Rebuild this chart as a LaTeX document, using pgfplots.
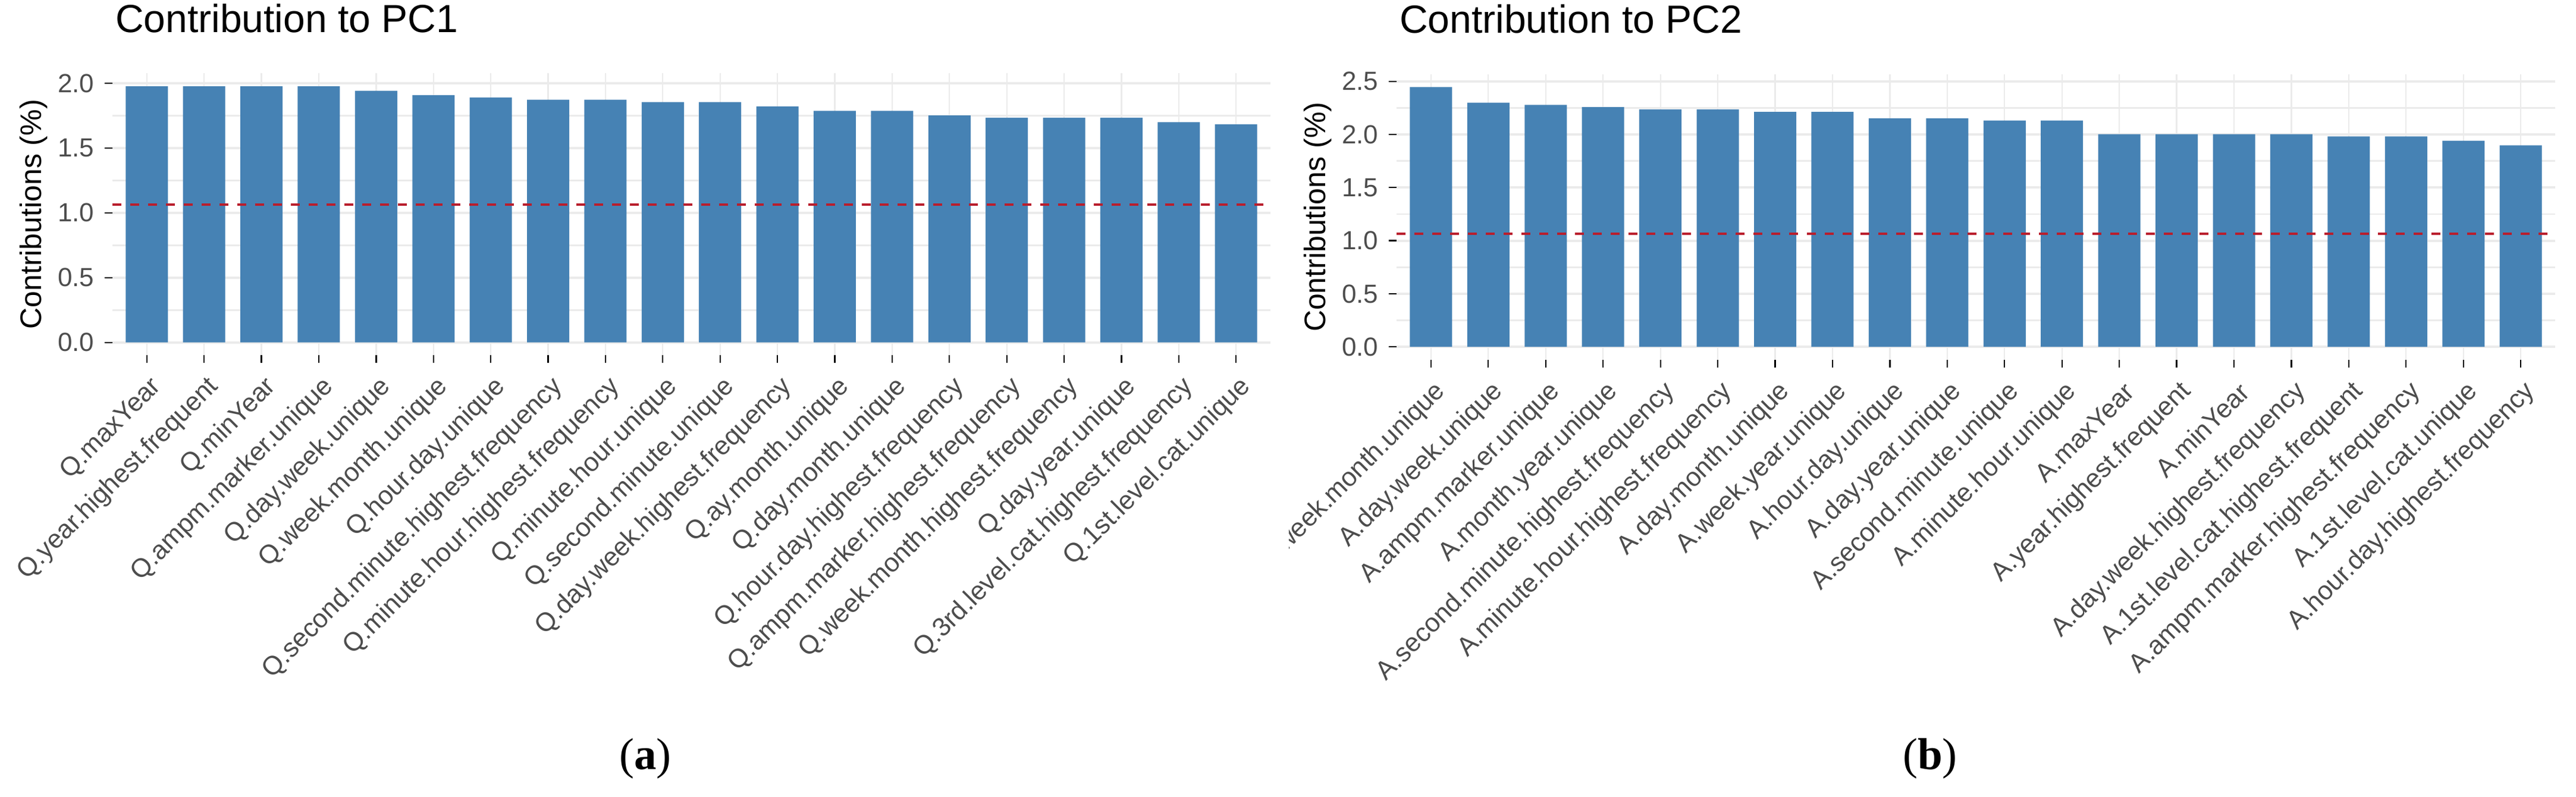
\documentclass[border=0pt]{standalone}
\usepackage{pgfplots}
\pgfplotsset{compat=1.18}
\usepackage{fontspec}
\setmainfont{Liberation Sans}
\newfontfamily\capfont{Liberation Serif}

\definecolor{steel}{RGB}{70,130,180}
\definecolor{gridgray}{RGB}{235,235,235}
\definecolor{ticktext}{RGB}{77,77,77}
\definecolor{refred}{RGB}{185,30,45}

\pgfplotsset{
  contrib/.style={
    scale only axis,
    anchor=south west,
    xmin=0.4, xmax=20.6,
    xtick={1,...,20},
    axis line style={draw=none},
    tick pos=left,
    tick align=outside,
    major tick length=2.6pt,
    minor tick length=0pt,
    tick style={black, line width=0.45pt},
    xmajorgrids, ymajorgrids, yminorgrids,
    major grid style={gridgray, line width=0.8pt},
    minor grid style={gridgray, line width=0.55pt},
    x grid style={line width=0.45pt},
    /pgf/number format/assume math mode=true,
    tick label style={font=\fontsize{8.8}{10}\selectfont, text=ticktext},
    yticklabel style={/pgf/number format/fixed, /pgf/number format/fixed zerofill,
      /pgf/number format/precision=1},
    xticklabel style={xshift=3.6pt, yshift=-6.6pt, rotate=45, anchor=east, inner sep=0pt},
    ylabel={Contributions (\%)},
    every axis y label/.style={at={(axis description cs:-0.0555,0.5)}, rotate=90,
      anchor=south, inner sep=0pt, font=\fontsize{10}{12}\selectfont},
    title style={at={(0,1)}, anchor=base west, xshift=0.8pt, yshift=7.8pt, inner sep=0pt,
      font=\fontsize{13.2}{15}\selectfont},
  },
  bars/.style={ybar, bar width=14.2pt, fill=steel, draw=none},
  refline/.style={refred, line width=0.8pt, dash pattern=on 3pt off 3pt},
}

\begin{document}
\begin{tikzpicture}
\useasboundingbox (0,0) rectangle (866.2pt,267.8pt);

% (a) contribution to PC1
\begin{axis}[contrib,
  at={(37.8pt,148.36pt)}, width=389.4pt, height=94.74pt,
  ymin=-0.099, ymax=2.076,
  ytick={0,0.5,1,1.5,2}, minor ytick={0.25,0.75,1.25,1.75},
  title={Contribution to PC1},
  xticklabels={Q.maxYear, Q.year.highest.frequent, Q.minYear, Q.ampm.marker.unique,
    Q.day.week.unique, Q.week.month.unique, Q.hour.day.unique,
    Q.second.minute.highest.frequency, Q.minute.hour.highest.frequency,
    Q.minute.hour.unique, Q.second.minute.unique, Q.day.week.highest.frequency,
    Q.ay.month.unique, Q.day.month.unique, Q.hour.day.highest.frequency,
    Q.ampm.marker.highest.frequency, Q.week.month.highest.frequency,
    Q.day.year.unique, Q.3rd.level.cat.highest.frequency, Q.1st.level.cat.unique},
]
\addplot[bars] coordinates {
  (1,1.977) (2,1.977) (3,1.977) (4,1.977) (5,1.942) (6,1.908) (7,1.891)
  (8,1.873) (9,1.873) (10,1.855) (11,1.855) (12,1.822) (13,1.787) (14,1.787)
  (15,1.752) (16,1.735) (17,1.735) (18,1.735) (19,1.700) (20,1.683)
};
\addplot[refline] coordinates {(0.4,1.064) (20.6,1.064)};
\end{axis}

% (b) contribution to PC2, first label cut at the subfigure edge
\begin{scope}
\clip (433.4pt,0pt) rectangle (866.2pt,267.8pt);
\begin{axis}[contrib,
  at={(469.6pt,146.8pt)}, width=389.6pt, height=96.06pt,
  ymin=-0.122, ymax=2.567,
  ytick={0,0.5,1,1.5,2,2.5}, minor ytick={0.25,0.75,1.25,1.75,2.25},
  title={Contribution to PC2},
  xticklabels={A.week.month.unique, A.day.week.unique, A.ampm.marker.unique,
    A.month.year.unique, A.second.minute.highest.frequency,
    A.minute.hour.highest.frequency, A.day.month.unique, A.week.year.unique,
    A.hour.day.unique, A.day.year.unique, A.second.minute.unique,
    A.minute.hour.unique, A.maxYear, A.year.highest.frequent, A.minYear,
    A.day.week.highest.frequency, A.1st.level.cat.highest.frequent,
    A.ampm.marker.highest.frequency, A.1st.level.cat.unique,
    A.hour.day.highest.frequency},
]
\addplot[bars] coordinates {
  (1,2.445) (2,2.298) (3,2.277) (4,2.257) (5,2.235) (6,2.235) (7,2.212)
  (8,2.212) (9,2.151) (10,2.151) (11,2.130) (12,2.130) (13,2.002) (14,2.002)
  (15,2.002) (16,2.002) (17,1.981) (18,1.981) (19,1.941) (20,1.897)
};
\addplot[refline] coordinates {(0.4,1.064) (20.6,1.064)};
\end{axis}
\end{scope}

\node[font=\capfont\fontsize{15}{18}\selectfont] at (217pt,12.8pt) {(\textbf{a})};
\node[font=\capfont\fontsize{15}{18}\selectfont] at (649pt,12.8pt) {(\textbf{b})};
\end{tikzpicture}
\end{document}
